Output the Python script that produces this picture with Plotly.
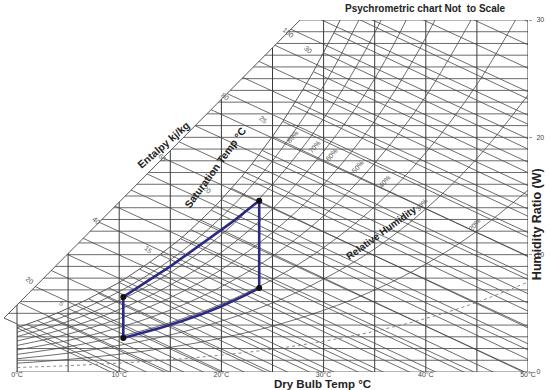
import plotly.graph_objects as go

# axes: dry bulb temp (deg C) and humidity ratio W (g/kg)
dry_bulb_ticks = [0, 10, 20, 30, 40, 50]
dry_bulb_labels = ['0°C', '10°C', '20°C', '30°C', '40°C', '50°C']
w_ticks = [0, 10, 20, 30]

# grid levels
dry_bulb_lines = [0, 5, 10, 15, 20, 25, 30, 35, 40, 45, 50]
w_lines = [0, 1, 2, 3, 4, 5, 6, 7, 8, 9, 10, 11, 12, 13, 14, 15, 16, 17, 18, 19, 20,
           21, 22, 23, 24, 25, 26, 27, 28, 29, 30]

# left edge + enthalpy scale line
outline_t = [0, 0, -1.27, 27.7]
outline_w = [0, 4.1, 4.6, 30]

# enthalpy lines (kJ/kg)
enthalpy_levels = [10, 15, 20, 25, 30, 35, 40, 45, 50, 55, 60, 65, 70, 75, 80, 85, 90,
                   95, 100, 105, 110, 115, 120, 125]
enthalpy_label_text = ['20', '40', '60', '80', '100']
enthalpy_label_t = [1.27, 7.73, 14.19, 20.35, 26.52]
enthalpy_label_w = [7.84, 12.87, 18.24, 23.44, 28.9]

# saturation curve (100%) and wet bulb lines start points
sat_t = [0, 1, 2, 3, 4, 5, 6, 7, 8, 9, 10, 11, 12, 13, 14, 15, 16, 17, 18, 19, 20,
         21, 22, 23, 24, 25, 26, 27, 28, 29, 30, 31, 32]
sat_w = [3.77, 4.06, 4.37, 4.70, 5.05, 5.42, 5.82, 6.24, 6.68, 7.16, 7.63, 8.20, 8.76,
         9.36, 10.0, 10.65, 11.36, 12.13, 12.93, 13.79, 14.70, 15.65, 16.67, 17.74,
         18.88, 20.08, 21.35, 22.7, 24.1, 25.6, 27.2, 28.9, 30.65]
wet_bulb_slope = 0.41
sat_label_text = ['5', '15', '20', '25', '30']
sat_label_t = [4.40, 12.82, 18.59, 24.07, 28.47]
sat_label_w = [5.88, 10.4, 15.52, 21.48, 27.45]

# relative humidity curves
rh_t = [0, 5, 10, 15, 20, 25, 30, 35, 40, 45, 50]
rh_90 = [3.39, 4.86, 6.85, 9.55, 13.2, 18.0, 24.4, 32.7]
rh_80 = [3.02, 4.31, 6.08, 8.48, 11.7, 16.0, 21.6, 28.9, 38.7]
rh_70 = [2.64, 3.77, 5.32, 7.41, 10.2, 13.9, 18.8, 25.0, 33.4]
rh_60 = [2.26, 3.23, 4.55, 6.34, 8.73, 11.9, 16.0, 21.4, 28.5, 37.6]
rh_50 = [1.88, 2.69, 3.79, 5.28, 7.27, 9.88, 13.3, 17.8, 23.5, 30.9]
rh_40 = [1.50, 2.15, 3.03, 4.21, 5.79, 7.88, 10.6, 14.1, 18.7, 24.5, 31.9]
rh_30 = [1.13, 1.61, 2.27, 3.16, 4.34, 5.89, 7.92, 10.5, 13.9, 18.2, 23.6]
rh_20 = [0.75, 1.07, 1.51, 2.10, 2.89, 3.91, 5.26, 6.99, 9.20, 12.0, 15.5]
rh_10 = [0.38, 0.54, 0.76, 1.05, 1.44, 1.95, 2.62, 3.48, 4.56, 5.94, 7.67]
rh_label_text = ['80%', '70%', '60%', '50%', '40%', '30%', '20%']
rh_label_t = [27.0, 29.16, 30.82, 33.37, 36.0, 39.63, 44.81]
rh_label_w = [20.03, 19.18, 18.5, 17.48, 16.2, 14.24, 12.53]

# comfort zone drawn on the chart
zone_t = [10.4, 12, 14, 16, 18, 20, 22, 23.7, 23.7, 21, 18, 15, 12.5, 10.4, 10.4]
zone_w = [2.9, 3.25, 3.75, 4.3, 4.9, 5.6, 6.4, 7.15, 14.6, 12.75, 10.9, 9.0, 7.6, 6.4, 2.9]
corner_t = [10.4, 23.7, 23.7, 10.4]
corner_w = [2.9, 7.15, 14.6, 6.4]

grid_col = '#484848'
FONT = 'Liberation Sans, Arial, sans-serif'

fig = go.Figure()

# horizontal + vertical grid
xs, ys = [], []
for w in w_lines:
    xs += [-2, 50, None]
    ys += [w, w, None]
fig.add_trace(go.Scatter(x=xs, y=ys, mode='lines', line=dict(color='#5a5a5a', width=0.9), hoverinfo='skip'))
xs, ys = [], []
for t in dry_bulb_lines:
    xs += [t, t, None]
    ys += [0, 30, None]
fig.add_trace(go.Scatter(x=xs, y=ys, mode='lines', line=dict(color='#3a3a3a', width=1), hoverinfo='skip'))

# enthalpy lines
xs, ys = [], []
for h in enthalpy_levels:
    xs += [-2, 50, None]
    ys += [(h + 1.006 * 2) / 2.5, (h - 1.006 * 50) / 2.5, None]
fig.add_trace(go.Scatter(x=xs, y=ys, mode='lines', line=dict(color=grid_col, width=0.8), hoverinfo='skip'))

# wet bulb lines from the saturation curve
xs, ys = [], []
for t, w in zip(sat_t, sat_w):
    xs += [t, 50, None]
    ys += [w, w - wet_bulb_slope * (50 - t), None]
fig.add_trace(go.Scatter(x=xs, y=ys, mode='lines', line=dict(color=grid_col, width=0.8), hoverinfo='skip'))

# RH curves
fig.add_trace(go.Scatter(x=sat_t, y=sat_w, mode='lines', line=dict(color=grid_col, width=0.9), hoverinfo='skip'))
for rh in [rh_90, rh_80, rh_70, rh_60, rh_50, rh_40, rh_30, rh_20]:
    fig.add_trace(go.Scatter(x=rh_t[:len(rh)], y=rh, mode='lines', line=dict(color=grid_col, width=0.8, shape='spline'),
                             hoverinfo='skip'))
fig.add_trace(go.Scatter(x=rh_t, y=rh_10, mode='lines', line=dict(color='#777777', width=0.9, shape='spline', dash='dot'),
                         hoverinfo='skip'))

# blank out the area outside the chart
fig.add_trace(go.Scatter(x=[-3, 0, 0, -1.27, 27.7, 27.7, -3], y=[-1, -1, 4.1, 4.6, 30, 31, 31],
                         mode='lines', fill='toself', fillcolor='white', line=dict(width=0), hoverinfo='skip'))
fig.add_trace(go.Scatter(x=outline_t, y=outline_w, mode='lines', line=dict(color='#444444', width=0.9), hoverinfo='skip'))

# comfort zone
fig.add_trace(go.Scatter(x=zone_t, y=zone_w, mode='lines', line=dict(color='#2c2a85', width=2.6),
                         hoverinfo='skip'))
fig.add_trace(go.Scatter(x=corner_t, y=corner_w, mode='markers', marker=dict(color='#111111', size=6), hoverinfo='skip'))

small = dict(family=FONT, size=7, color='#555555')
for txt, t, w in zip(enthalpy_label_text, enthalpy_label_t, enthalpy_label_w):
    fig.add_annotation(x=t, y=w, text=txt, showarrow=False, textangle=40, font=small)
for txt, t, w in zip(sat_label_text, sat_label_t, sat_label_w):
    fig.add_annotation(x=t, y=w, text=txt, showarrow=False, textangle=40, font=small)
for txt, t, w in zip(rh_label_text, rh_label_t, rh_label_w):
    fig.add_annotation(x=t, y=w, text=txt, showarrow=False, textangle=-50, font=small)

big = dict(family=FONT, size=10.5, color='#222222')
fig.add_annotation(x=14.29, y=19.35, text='<b>Entalpy kj/kg</b>', showarrow=False, textangle=-41, font=big)
fig.add_annotation(x=19.44, y=17.43, text='<b>Saturation Temp °C</b>', showarrow=False, textangle=-54, font=big)
fig.add_annotation(x=35.66, y=11.89, text='<b>Relative Humidity</b>', showarrow=False, textangle=-36,
                   font=dict(family=FONT, size=10, color='#222222'))
# titles sit outside the axis ranges -> paper coords
fig.add_annotation(xref='paper', yref='paper', x=0.805, y=1.034, xanchor='center', yanchor='middle',
                   text='<b>Psychrometric chart Not  to Scale</b>',
                   showarrow=False, font=dict(family=FONT, size=10, color='#222222'))
fig.add_annotation(xref='paper', yref='paper', x=0.61, y=-0.034, xanchor='center', yanchor='middle',
                   text='<b>Dry Bulb Temp °C</b>', showarrow=False,
                   font=dict(family=FONT, size=11.5, color='#222222'))
fig.add_annotation(xref='paper', yref='paper', x=1.017, y=0.42, xanchor='center', yanchor='middle',
                   text='<b>Humidity Ratio (W)</b>', showarrow=False,
                   textangle=-90, font=dict(family=FONT, size=12.5, color='#222222'))

fig.update_layout(
    width=550, height=390,
    margin=dict(l=0, r=22, t=20, b=18),
    plot_bgcolor='white', paper_bgcolor='white',
    showlegend=False,
    font=dict(family=FONT),
)
fig.update_xaxes(range=[-1.663, 50], tickvals=dry_bulb_ticks, ticktext=dry_bulb_labels, showgrid=False,
                 zeroline=False, ticks='', tickfont=dict(size=7, color='#444444'), ticklabelstandoff=-3,
                 fixedrange=True)
fig.update_yaxes(range=[0, 30], side='right', tickvals=w_ticks, showgrid=False, zeroline=False, ticks='outside',
                 ticklen=3, tickcolor='#999999', tickfont=dict(size=7, color='#444444'), ticklabelstandoff=3,
                 fixedrange=True)

# page body has a default 8px margin, drop it so the figure sits at 0,0
fig.write_html("out.html", config={'displayModeBar': False},
               post_script="document.body.style.margin='0px';")
